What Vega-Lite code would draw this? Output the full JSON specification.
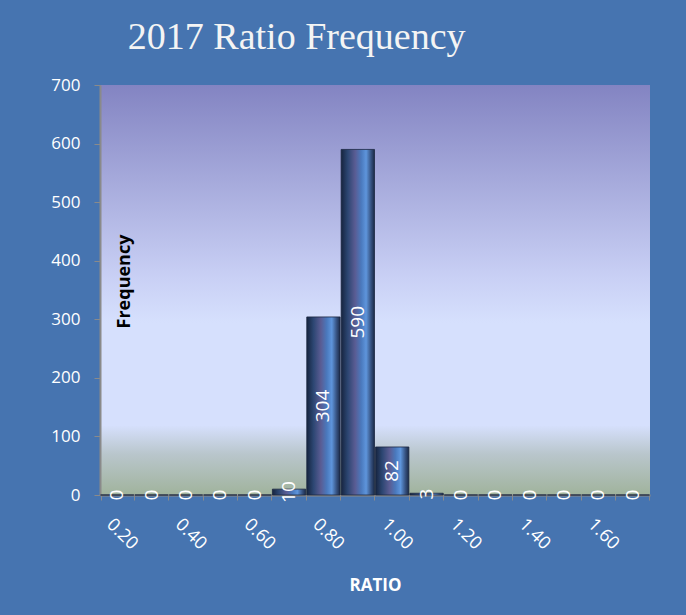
{
  "$schema": "https://vega.github.io/schema/vega-lite/v6.json",
  "width": 550,
  "height": 410,
  "autosize": {"type": "none"},
  "padding": {"left": 100, "top": 85, "right": 36, "bottom": 120},
  "background": "#4674b0",
  "title": {
    "text": "2017 Ratio Frequency",
    "font": "Liberation Serif",
    "fontSize": 38,
    "fontWeight": "normal",
    "color": "#f4f4f4",
    "anchor": "start",
    "dx": 77,
    "offset": 19
  },
  "config": {
    "view": {
      "stroke": null,
      "fill": {
        "gradient": "linear",
        "x1": 0, "y1": 0, "x2": 0, "y2": 1,
        "stops": [
          {"offset": 0, "color": "#8384c2"},
          {"offset": 0.47, "color": "#c9d0f5"},
          {"offset": 0.58, "color": "#d6e0fd"},
          {"offset": 0.83, "color": "#d6e0fd"},
          {"offset": 0.9, "color": "#b9c6cc"},
          {"offset": 1, "color": "#a0b39c"}
        ]
      }
    }
  },
  "data": {
    "values": [
      {"ratio": "0.20", "count": 0},
      {"ratio": "0.30", "count": 0},
      {"ratio": "0.40", "count": 0},
      {"ratio": "0.50", "count": 0},
      {"ratio": "0.60", "count": 0},
      {"ratio": "0.70", "count": 10},
      {"ratio": "0.80", "count": 304},
      {"ratio": "0.90", "count": 590},
      {"ratio": "1.00", "count": 82},
      {"ratio": "1.10", "count": 3},
      {"ratio": "1.20", "count": 0},
      {"ratio": "1.30", "count": 0},
      {"ratio": "1.40", "count": 0},
      {"ratio": "1.50", "count": 0},
      {"ratio": "1.60", "count": 0},
      {"ratio": "1.70", "count": 0}
    ]
  },
  "encoding": {
    "x": {
      "field": "ratio",
      "type": "ordinal",
      "sort": null,
      "scale": {"paddingInner": 0.03, "paddingOuter": 0.015},
      "axis": {
        "title": "RATIO",
        "titleColor": "#ffffff",
        "titleFont": "Open Sans",
        "titleFontSize": 17,
        "titleFontWeight": "bold",
        "titlePadding": 25,
        "labelColor": "#ffffff",
        "labelFont": "Open Sans",
        "labelFontSize": 18,
        "labelAngle": 45,
        "labelAlign": "left",
        "labelBaseline": "top",
        "labelPadding": 15,
        "labelOffset": -2,
        "labelOverlap": false,
        "labelExpr": "indexof(['0.20','0.40','0.60','0.80','1.00','1.20','1.40','1.60'], datum.label) >= 0 ? datum.label : ''",
        "tickBand": "extent",
        "tickColor": "#8a8a8a",
        "tickSize": 5,
        "domainColor": "#8a8a8a",
        "domainWidth": 2
      }
    }
  },
  "layer": [
    {
      "mark": {
        "type": "bar",
        "stroke": "#1a2640",
        "strokeWidth": 0.8,
        "fill": {
          "gradient": "linear",
          "x1": 0, "y1": 0, "x2": 1, "y2": 0,
          "stops": [
            {"offset": 0, "color": "#16243f"},
            {"offset": 0.2, "color": "#2c4672"},
            {"offset": 0.42, "color": "#5a5c93"},
            {"offset": 0.6, "color": "#4a79bd"},
            {"offset": 0.75, "color": "#5e95dc"},
            {"offset": 0.9, "color": "#35507e"},
            {"offset": 1, "color": "#1a2a48"}
          ]
        }
      },
      "encoding": {
        "y": {
          "field": "count",
          "type": "quantitative",
          "scale": {"domain": [0, 700], "nice": false},
          "axis": {
            "values": [0, 100, 200, 300, 400, 500, 600, 700],
            "title": "Frequency",
            "titleColor": "#000000",
            "titleFont": "Open Sans",
            "titleFontSize": 18,
            "titleFontWeight": "bold",
            "titleAngle": 270,
            "titleX": 33,
            "titleY": 196,
            "titleAlign": "center",
            "titleBaseline": "bottom",
            "labelColor": "#ffffff",
            "labelFont": "Open Sans",
            "labelFontSize": 17,
            "labelPadding": 14,
            "tickColor": "#8a8a8a",
            "tickSize": 6,
            "domainColor": "#8a8a8a",
            "domainWidth": 2,
            "grid": false
          }
        }
      }
    },
    {
      "transform": [{"calculate": "datum.count / 2", "as": "mid"}],
      "mark": {
        "type": "text",
        "angle": 270,
        "color": "#ffffff",
        "font": "Open Sans",
        "fontSize": 19,
        "align": "center",
        "baseline": "middle"
      },
      "encoding": {
        "y": {"field": "mid", "type": "quantitative"},
        "text": {"field": "count", "type": "quantitative"}
      }
    }
  ]
}
